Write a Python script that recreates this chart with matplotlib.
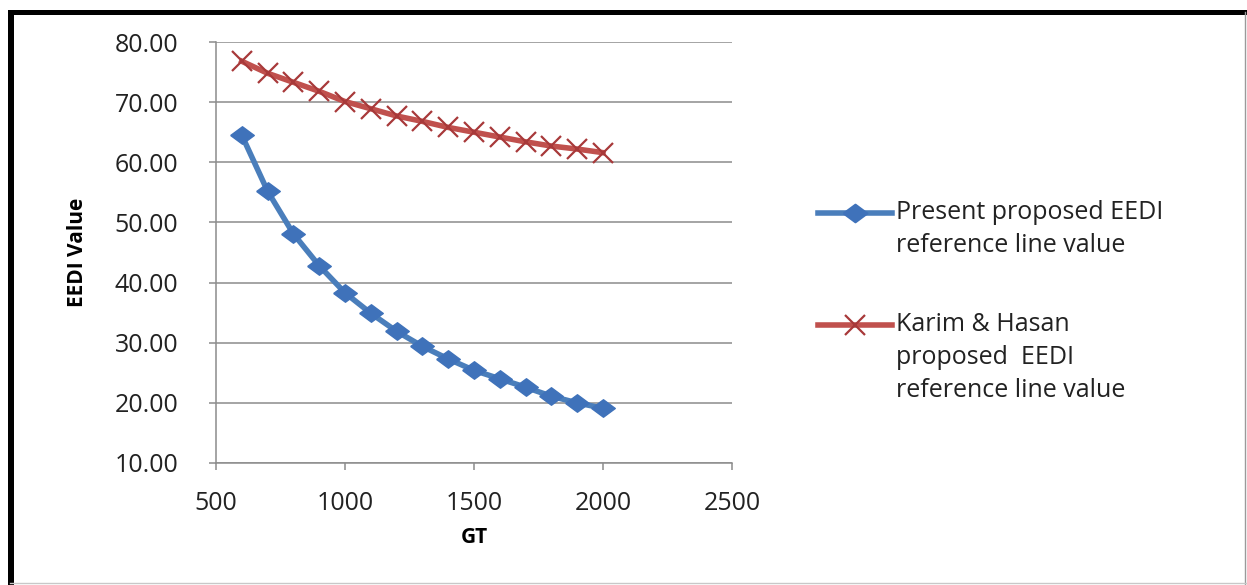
import matplotlib
matplotlib.use("Agg")
import matplotlib.pyplot as plt
from matplotlib.lines import Line2D
from matplotlib.patches import Rectangle

# Gross tonnage values and EEDI reference line values
gt = [600, 700, 800, 900, 1000, 1100, 1200, 1300, 1400, 1500, 1600, 1700, 1800, 1900, 2000]
present_eedi = [64.5, 55.2, 48.1, 42.8, 38.3, 34.9, 31.9, 29.4, 27.3, 25.4, 24.0, 22.6, 21.1, 20.0, 19.1]
karim_hasan_eedi = [76.8, 74.8, 73.3, 71.8, 70.1, 68.9, 67.7, 66.8, 65.8, 65.0, 64.2, 63.4, 62.7, 62.2, 61.6]

x_ticks = [500, 1000, 1500, 2000, 2500]
y_ticks = [10, 20, 30, 40, 50, 60, 70, 80]
labels = ["Present proposed EEDI\nreference line value",
          "Karim & Hasan\nproposed  EEDI\nreference line value"]

plt.rcParams['font.family'] = ['Open Sans', 'DejaVu Sans']
W, H = 1247, 585
fig = plt.figure(figsize=(W / 100, H / 100), dpi=100)
fig.patch.set_facecolor("white")

ax = fig.add_axes([216 / W, 1 - 463 / H, (732 - 216) / W, (463 - 42) / H])

blue = "#4A7EBB"
blue_mk = "#3F72BA"
red = "#C0504D"
red_mk = "#A8393A"

diamond = [(-1.35, 0), (0, 1), (1.35, 0), (0, -1), (-1.35, 0)]
ax.plot(gt, present_eedi, color=blue, lw=4, marker=diamond, ms=17,
        mfc=blue_mk, mec=blue_mk, zorder=3, clip_on=False)
ax.plot(gt, karim_hasan_eedi, color=red, lw=4, marker="x", ms=14, mew=1.6,
        mec=red_mk, zorder=3, clip_on=False)

ax.set_xlim(500, 2500)
ax.set_ylim(10, 80)
ax.set_xticks(x_ticks)
ax.set_yticks(y_ticks)
ax.set_yticklabels([f"{v:.2f}" for v in y_ticks])
ax.yaxis.grid(True, color="#8C8C8C", lw=1.1)
ax.set_axisbelow(True)
for s in ["top", "right"]:
    ax.spines[s].set_visible(False)
for s in ["left", "bottom"]:
    ax.spines[s].set_color("#8C8C8C")
    ax.spines[s].set_linewidth(1.1)
ax.tick_params(axis="both", direction="out", length=5, width=1.1, color="#8C8C8C",
               labelsize=18, labelcolor="#222222")
ax.tick_params(axis="y", pad=22)
ax.tick_params(axis="x", pad=15)

ax.set_xlabel("GT", fontsize=15, fontweight="bold", labelpad=8)
ax.set_ylabel("EEDI Value", fontsize=15, fontweight="bold", labelpad=19)

# Legend drawn with handles aligned to the first line of each label
tf = fig.transFigure
def fx(px):
    return px / W
def fy(py):
    return 1 - py / H

entries = [(labels[0], blue, diamond, blue_mk, 213, 17),
           (labels[1], red, "x", red_mk, 325, 14)]
for text, col, mk, mkc, ypx, ms in entries:
    fig.add_artist(Line2D([fx(818), fx(892)], [fy(ypx), fy(ypx)], transform=tf,
                          color=col, lw=4))
    fig.add_artist(Line2D([fx(855)], [fy(ypx)], transform=tf, color=col, lw=0,
                          marker=mk, ms=ms, mfc=mkc, mec=mkc, mew=1.6))
    fig.text(fx(896), fy(ypx - 13), text, fontsize=18, color="#222222",
             ha="left", va="top", linespacing=1.42)

# Frame around the figure
fig.add_artist(Rectangle((fx(8), fy(15)), fx(W) - fx(8), 5 / H, transform=tf,
                         color="black", lw=0))
fig.add_artist(Rectangle((fx(8), 0), 6 / W, fy(10), transform=tf,
                         color="black", lw=0))
fig.add_artist(Line2D([fx(1245), fx(1245)], [0, fy(12)], transform=tf,
                      color="#9A9A9A", lw=1))
fig.add_artist(Line2D([fx(10), 1], [fy(583), fy(583)], transform=tf,
                      color="#C8C8C8", lw=1))

fig.savefig("out.png", dpi=100, facecolor="white")
